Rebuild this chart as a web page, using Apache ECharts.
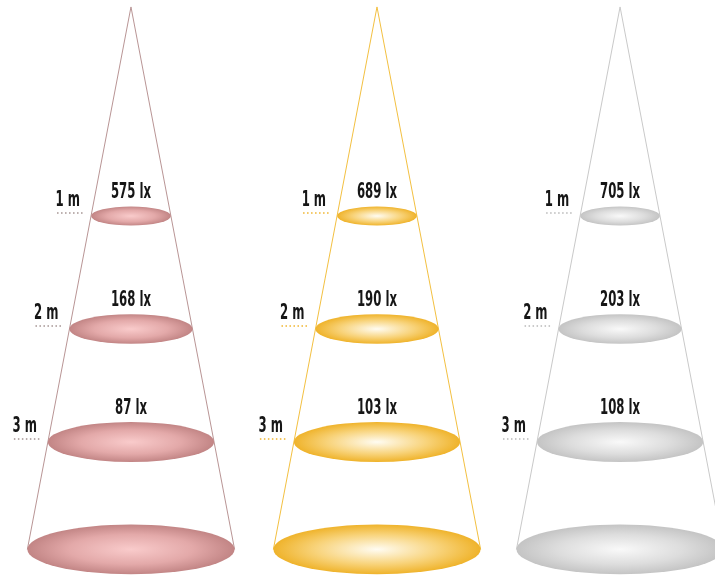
<!DOCTYPE html>
<html>
<head>
<meta charset="utf-8">
<script src="https://cdn.jsdelivr.net/npm/echarts@6/dist/echarts.min.js"></script>
<style>html,body{margin:0;padding:0;background:#fff}#c{width:715px;height:579px}</style>
</head>
<body>
<div id="c"></div>
<script>
// ---- data ----
const distances = [1, 2, 3];                 // metres from the lamp
const distanceLabels = ['1 m', '2 m', '3 m'];
const beamNames = ['rose', 'amber', 'silver'];
const luxRose = [575, 168, 87];
const luxAmber = [689, 190, 103];
const luxSilver = [705, 203, 108];
const luxUnit = 'lx';

// ---- beam geometry (in metres, drawn through the axes) ----
const apexDistance = -0.85;   // lamp position on the distance axis
const beamEndDistance = 3.95; // last (unlabelled) disc
const halfAngleTan = 0.191;   // tan of half beam angle
const discFlatten = 0.24;     // perspective flattening of discs

// ---- layout / style ----
const coneCenters = [1.159, 3.336, 5.487];
const themes = [
  { line: '#b99595', dot: '#a39391', stops: ['#f9cbcb', '#e3a9a9', '#c28585'] },
  { line: '#f3c041', dot: '#f0b52e', stops: ['#fffcf2', '#f8d37a', '#efb32b'] },
  { line: '#c9c9c9', dot: '#b9b9b9', stops: ['#f9f9f9', '#dddddd', '#c4c4c4'] }
];
const FONT = '"Liberation Sans Narrow", "DejaVu Sans Condensed", sans-serif';
const TEXT_SQUEEZE = 0.62;

const luxSets = [luxRose, luxAmber, luxSilver];
const discData = [];
luxSets.forEach((set, ci) => set.forEach((v, i) => discData.push([ci, distances[i], v, i])));
const coneData = beamNames.map((n, ci) => [ci]);

function disc(api, ci, d) {
  const t = themes[ci];
  const c = api.coord([coneCenters[ci], d]);
  const rx = api.size([halfAngleTan * (d - apexDistance), 0])[0];
  const ry = rx * discFlatten;
  return {
    type: 'circle', x: c[0], y: c[1], scaleX: 1, scaleY: ry / rx,
    shape: { cx: 0, cy: 0, r: rx },
    style: {
      fill: { type: 'radial', x: 0.5, y: 0.5, r: 0.5,
        colorStops: [{ offset: 0, color: t.stops[0] }, { offset: 0.6, color: t.stops[1] }, { offset: 1, color: t.stops[2] }] }
    },
    z2: 10
  };
}

function renderCone(params, api) {
  const ci = api.value(0);
  const t = themes[ci];
  const apex = api.coord([coneCenters[ci], apexDistance]);
  const hw = halfAngleTan * (beamEndDistance - apexDistance);
  const l = api.coord([coneCenters[ci] - hw, beamEndDistance]);
  const r = api.coord([coneCenters[ci] + hw, beamEndDistance]);
  return {
    type: 'group',
    children: [
      { type: 'polyline', shape: { points: [l, apex, r] }, style: { stroke: t.line, lineWidth: 1, fill: null } },
      disc(api, ci, beamEndDistance)
    ]
  };
}

function renderDisc(params, api) {
  const ci = api.value(0);
  const d = api.value(1);
  const lux = api.value(2);
  const idx = api.value(3);
  const t = themes[ci];
  const c = api.coord([coneCenters[ci], d]);
  const rx = api.size([halfAngleTan * (d - apexDistance), 0])[0];
  const ry = rx * discFlatten;
  const left = c[0] - rx;
  return {
    type: 'group',
    children: [
      disc(api, ci, d),
      { type: 'text', x: c[0], y: c[1] - ry - 3, scaleX: TEXT_SQUEEZE,
        style: { text: lux + ' ' + luxUnit, fill: '#161616', font: 'bold 21px ' + FONT, align: 'center', verticalAlign: 'bottom' }, z2: 20 },
      { type: 'text', x: left - 11, y: c[1] - 15, scaleX: TEXT_SQUEEZE,
        style: { text: distanceLabels[idx], fill: '#161616', font: 'bold 21px ' + FONT, align: 'right', verticalAlign: 'middle' }, z2: 20 },
      { type: 'line', shape: { x1: left - 34, y1: c[1] - 3, x2: left - 6, y2: c[1] - 3 },
        style: { stroke: t.dot, lineWidth: 1.5, lineDash: [1.5, 2.5] }, z2: 20 }
    ]
  };
}

const chart = echarts.init(document.getElementById('c'), null, { renderer: 'canvas' });
chart.setOption({
  animation: false,
  backgroundColor: '#ffffff',
  grid: { left: 0, right: 0, top: 0, bottom: 0 },
  xAxis: { type: 'value', min: 0, max: 6.327, show: false },
  yAxis: { type: 'value', min: -0.9115, max: 4.2124, inverse: true, show: false },
  series: [
    { type: 'custom', name: 'beams', clip: false, data: coneData, renderItem: renderCone, z: 1 },
    { type: 'custom', name: 'discs', clip: false, data: discData, renderItem: renderDisc, z: 2 }
  ]
});
</script>
</body>
</html>
